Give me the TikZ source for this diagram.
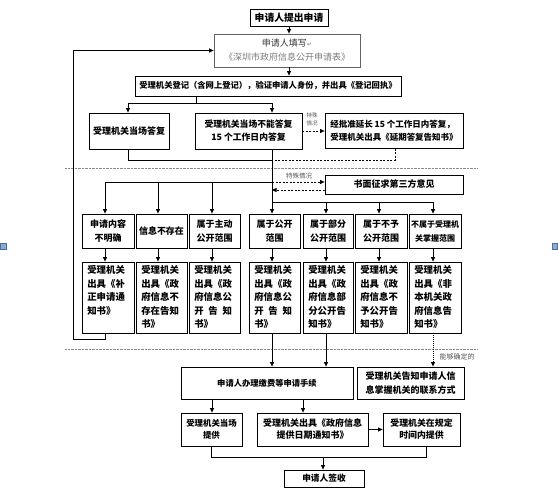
\documentclass[tikz,border=0pt]{standalone}
\usepackage{fontspec}
\setmainfont{Noto Sans CJK SC}
\newfontfamily\symfont{DejaVu Sans}
\usetikzlibrary{arrows.meta}
\definecolor{handlefill}{HTML}{8FA8CC}
\definecolor{handledraw}{HTML}{4F6F99}
\definecolor{sepgray}{HTML}{8A8A8A}
\definecolor{lblgray}{HTML}{555555}
\definecolor{formgray}{HTML}{7A7A7A}
\tikzset{
  box/.style={draw=black, line width=0.8pt, inner sep=0pt, align=center, text=black},
  fs/.style 2 args={font=\bfseries\fontsize{#1}{#2}\selectfont},
  r4t/.style={inner sep=0pt, align=left, anchor=north west, font=\bfseries\fontsize{9.4}{13.5}\selectfont},
  ln/.style={line width=0.7pt},
  arr/.style={-{Triangle[length=4.5pt,width=4pt]}},
  dsh/.style={dash pattern=on 2pt off 1.5pt},
  dtt/.style={dash pattern=on 1pt off 1pt, line width=0.9pt},
  sepline/.style={draw=sepgray, line width=1pt, dash pattern=on 0.7pt off 0.7pt},
  lbl/.style={text=lblgray, inner sep=0pt, align=center, font=\fontsize{#1}{#1}\selectfont},
  handle/.style={draw=handledraw, fill=handlefill, line width=0.6pt}
}
\begin{document}
\begin{tikzpicture}[x=1pt,y=-1pt]
\useasboundingbox (0,0) rectangle (558,495);

% column coordinates
\coordinate (cm) at (289,0);
\coordinate (ca) at (105,0);
\coordinate (cb) at (158,0);
\coordinate (cc) at (212,0);
\coordinate (cd) at (272,0);
\coordinate (ce) at (326,0);
\coordinate (cf) at (379,0);
\coordinate (cg) at (433,0);
\coordinate (c4) at (128,0);
\coordinate (c6) at (395,0);
\coordinate (cq) at (303,0);
\coordinate (cr) at (426,0);
\coordinate (h1) at (0,182);
\coordinate (h2) at (0,190);
\coordinate (h3) at (0,202);
\coordinate (j1) at (196,103);
\coordinate (j2) at (272,160);
\coordinate (j3) at (323,457);
\coordinate (L) at (73,339);

% separators
\draw[sepline] (65,169) -- (477,169);
\draw[sepline] (65,349) -- (477,349);

% top
\node[box, minimum width=78pt, minimum height=17pt, fs={9.8}{12}] (n1) at (289,17.5) {申请人提出申请};
\node[box, draw=formgray!80!black, minimum width=146pt, minimum height=33pt, font=\fontsize{9}{14}\selectfont] (n2) at (287,50.5)
  {{\color{black!80}申请人填写{\symfont\fontsize{6}{6}\selectfont\color{formgray}↵}}\\{\color{formgray}《深圳市政府信息公开申请表》}};
\node[box, minimum width=266pt, minimum height=20pt, fs={8.3}{10}] (n3) at (268,86) {受理机关登记（含网上登记），验证申请人身份，并出具《登记回执》};

% row 2
\node[box, minimum width=80pt, minimum height=36pt, fs={9}{12}] (n4) at (129,131) {受理机关当场答复};
\node[box, minimum width=107pt, minimum height=36pt, fs={8.8}{13}] (n5) at (248.5,131) {受理机关当场不能答复\\15 个工作日内答复};
\node[box, minimum width=138pt, minimum height=35pt, align=left, fs={8.5}{12.5}] (n6) at (394,131) {经批准延长 15 个工作日内答复，\\受理机关出具《延期答复告知书》};
\node[lbl=5.5, font=\fontsize{5.5}{8}\selectfont] (t1) at (312,119) {特殊\\情况};

% third-party box
\node[box, minimum width=138pt, minimum height=19pt, fs={9}{12}] (n7) at (394,184.5) {书面征求第三方意见};
\node[lbl=6.5] (t2) at (299,176) {特殊情况};

% row 3
\node[box, minimum width=52pt, minimum height=34pt, fs={9}{14}] (a3) at (108,231) {申请内容\\不明确};
\node[box, minimum width=51pt, minimum height=34pt, fs={9}{14}] (b3) at (161.5,231) {信息不存在};
\node[box, minimum width=51pt, minimum height=34pt, fs={9}{14}] (c3) at (214.5,231) {属于主动\\公开范围};
\node[box, minimum width=51pt, minimum height=34pt, fs={9}{14}] (d3) at (274.5,231) {属于公开\\范围};
\node[box, minimum width=50pt, minimum height=34pt, fs={9}{14}] (e3) at (328,231) {属于部分\\公开范围};
\node[box, minimum width=52pt, minimum height=34pt, fs={9}{14}] (f3) at (381,231) {属于不予\\公开范围};
\node[box, minimum width=52pt, minimum height=34pt, fs={8}{14}] (g3) at (435,231) {不属于受理机\\关掌握范围};

% row 4
\node[box, minimum width=52pt, minimum height=71pt] (a4) at (108,297.5) {};
\node[box, minimum width=51pt, minimum height=71pt] (b4) at (161.5,297.5) {};
\node[box, minimum width=51pt, minimum height=71pt] (c4b) at (214.5,297.5) {};
\node[box, minimum width=51pt, minimum height=71pt] (d4) at (274.5,297.5) {};
\node[box, minimum width=50pt, minimum height=71pt] (e4) at (328,297.5) {};
\node[box, minimum width=52pt, minimum height=71pt] (f4) at (381,297.5) {};
\node[box, minimum width=52pt, minimum height=71pt] (g4) at (435,297.5) {};
\node[r4t] (a4t) at ([xshift=5.5pt,yshift=-4pt]a4.north west) {受理机关\\出具《补\\正申请通\\知书》};
\node[r4t] (b4t) at ([xshift=5.5pt,yshift=-4pt]b4.north west) {受理机关\\出具《政\\府信息不\\存在告知\\书》};
\node[r4t] (c4t) at ([xshift=5.5pt,yshift=-4pt]c4b.north west) {受理机关\\出具《政\\府信息公\\\makebox[4em][l]{开\hfill 告\hfill 知}\\书》};
\node[r4t] (d4t) at ([xshift=5.5pt,yshift=-4pt]d4.north west) {受理机关\\出具《政\\府信息公\\\makebox[4em][l]{开\hfill 告\hfill 知}\\书》};
\node[r4t] (e4t) at ([xshift=5.5pt,yshift=-4pt]e4.north west) {受理机关\\出具《政\\府信息部\\分公开告\\知书》};
\node[r4t] (f4t) at ([xshift=5.5pt,yshift=-4pt]f4.north west) {受理机关\\出具《政\\府信息不\\予公开告\\知书》};
\node[r4t] (g4t) at ([xshift=5.5pt,yshift=-4pt]g4.north west) {受理机关\\出具《非\\本机关政\\府信息告\\知书》};

% lower part
\node[box, minimum width=172pt, minimum height=32pt, fs={8.3}{12}] (n8) at (267,383) {申请人办理缴费等申请手续};
\node[box, minimum width=107pt, minimum height=32pt, fs={9}{14.5}] (n9) at (410.5,383) {受理机关告知申请人信\\息掌握机关的联系方式};
\node[lbl=7] (t3) at (457,357) {能够确定的};
\node[box, minimum width=61pt, minimum height=33pt, fs={8.4}{12}] (P) at (211.5,429.5) {受理机关当场\\提供};
\node[box, minimum width=111pt, minimum height=33pt, fs={9}{12}] (Q) at (312.5,429.5) {受理机关出具《政府信息\\提供日期通知书》};
\node[box, minimum width=77pt, minimum height=33pt, fs={8.9}{12}] (R) at (421.5,429.5) {受理机关在规定\\时间内提供};
\node[box, minimum width=80pt, minimum height=17pt, fs={8.7}{12}] (n10) at (324,478.5) {申请人签收};

% connectors top
\draw[ln,arr] (cm |- n1.south) -- (cm |- n2.north);
\draw[ln,arr] (cm |- n2.south) -- (cm |- n3.north);
\draw[ln] (j1 |- n3.south) -- (j1);
\draw[ln,arr] (j1) -| (c4 |- n4.north);
\draw[ln,arr] (j1) -| (cd |- n5.north);
\draw[ln,dsh,arr] (n5.east) -- (n6.west);
\draw[ln] (c4 |- n4.south) |- (j2);
\draw[ln,arr] (cd |- n5.south) -- (cd |- d3.north);
\draw[ln,dsh] (c6 |- n6.south) |- (j2);

% loop back
\draw[ln,arr] ([xshift=-3pt]a4.south) |- (L) |- (n2.west);

% row 3 branching
\draw[ln] (ca |- h1) -- (cd |- h1);
\draw[ln,arr] (ca |- h1) -- (ca |- a3.north);
\draw[ln,arr] (cb |- h1) -- (cb |- b3.north);
\draw[ln,arr] (cc |- h1) -- (cc |- c3.north);
\draw[ln,dsh,arr] (cd |- h1) -- (n7.west |- h1);
\draw[ln,dsh,arr] (n7.west |- h2) -- (cd |- h2);
\draw[ln] (cd |- h3) -- (cg |- h3);
\draw[ln,arr] (ce |- h3) -- (ce |- e3.north);
\draw[ln,arr] (cf |- h3) -- (cf |- f3.north);
\draw[ln,arr] (cg |- h3) -- (cg |- g3.north);

% row 3 -> row 4
\draw[ln,arr] (ca |- a3.south) -- (ca |- a4.north);
\draw[ln,arr] (cb |- b3.south) -- (cb |- b4.north);
\draw[ln,arr] (cc |- c3.south) -- (cc |- c4b.north);
\draw[ln,arr] (cd |- d3.south) -- (cd |- d4.north);
\draw[ln,arr] (ce |- e3.south) -- (ce |- e4.north);
\draw[ln,arr] (cf |- f3.south) -- (cf |- f4.north);
\draw[ln,arr] (cg |- g3.south) -- (cg |- g4.north);

% row 4 -> lower
\draw[ln,arr] (cd |- d4.south) -- (cd |- n8.north);
\draw[ln,arr] (ce |- e4.south) -- (ce |- n8.north);
\draw[dtt,arr] (cg |- g4.south) -- (cg |- n9.north);
\draw[ln,arr] (cc |- n8.south) -- (cc |- P.north);
\draw[ln,arr] (cq |- n8.south) -- (cq |- Q.north);
\draw[ln,arr] (Q.east) -- (R.west);
\draw[ln] (P.south) |- (cr |- j3) -- (cr |- R.south);
\draw[ln,arr] (j3) -- (j3 |- n10.north);

% selection handles
\draw[handle] (0.3,243) rectangle (6,249);
\draw[handle] (552,243) rectangle (557.7,249);
\end{tikzpicture}
\end{document}
